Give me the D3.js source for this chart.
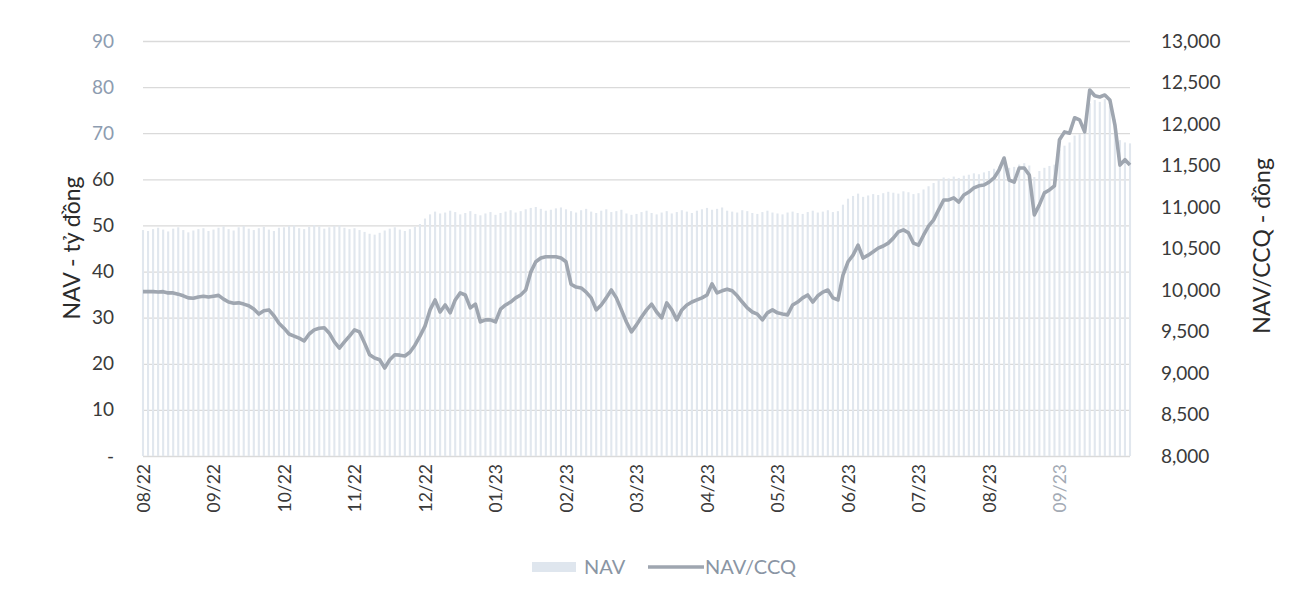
<!DOCTYPE html>
<html>
<meta charset="utf-8">
<head>
    <title>NAV va NAV/CCQ</title>
</head>
<style>
    body { margin: 0; background: #fff; }
    svg text { font-family: Lato, "Open Sans", sans-serif; }
</style>
<script src="https://d3js.org/d3.v7.min.js"></script>
<body>
<div id="chart"></div>
<script>

// month labels, one every 14 points
var months = ["08/22","09/22","10/22","11/22","12/22","01/23","02/23","03/23","04/23","05/23","06/23","07/23","08/23","09/23"]

// NAV (ty dong), bars
var nav = [
  49.0,48.8,49.2,49.5,49.1,48.7,49.3,49.6,49.0,48.5,48.9,49.2,49.4,48.8,
  49.1,49.5,49.8,49.2,48.9,49.6,49.9,49.3,49.0,49.4,49.7,49.1,48.8,49.5,
  49.6,49.9,50.0,49.4,49.2,49.7,50.1,49.8,49.3,49.6,49.9,50.0,49.5,49.2,
  49.4,49.0,48.6,48.2,48.0,48.4,48.9,49.3,49.6,49.1,48.8,49.2,49.7,50.3,
  51.5,52.4,53.0,52.6,52.8,53.2,52.9,52.4,52.7,53.1,52.5,52.2,52.6,52.9,
  52.3,52.7,53.0,53.3,52.8,53.1,53.5,53.8,54.0,53.6,53.2,53.4,53.7,53.9,
  53.5,53.1,52.8,53.3,53.6,53.0,52.7,53.2,53.5,52.9,53.1,53.4,52.6,52.3,
  52.5,52.9,53.2,52.7,52.4,52.8,53.1,52.6,52.9,53.3,53.0,52.7,53.2,53.5,
  53.8,53.4,53.6,53.9,53.2,53.0,52.8,53.3,53.1,52.7,52.5,52.9,53.2,52.8,
  52.6,52.4,52.8,53.0,52.7,52.5,52.9,53.2,52.8,53.0,53.3,52.9,53.1,54.5,
  55.8,56.4,56.9,56.2,56.5,56.8,56.6,57.0,57.3,57.1,56.9,57.4,57.2,56.8,
  57.0,57.8,58.5,59.2,60.0,60.4,60.2,60.6,60.3,60.8,61.0,61.3,61.1,61.5,
  61.8,62.3,62.8,63.6,62.5,62.7,63.2,63.5,63.0,60.5,61.8,62.5,62.9,63.2,
  66.5,67.3,68.0,69.5,69.8,70.2,76.5,77.2,76.8,77.4,76.0,73.0,68.5,68.0,67.8
]

// NAV/CCQ (dong), line
var navccq = [
  9980,9980,9980,9975,9980,9965,9965,9950,9930,9905,9900,9915,9925,9915,
  9925,9935,9890,9855,9840,9845,9830,9810,9770,9710,9750,9760,9690,9600,
  9540,9470,9445,9420,9385,9470,9520,9540,9545,9480,9375,9300,9375,9445,
  9520,9495,9360,9220,9180,9160,9060,9160,9220,9215,9205,9250,9335,9445,
  9565,9760,9880,9735,9820,9725,9880,9965,9940,9785,9830,9615,9640,9640,
  9615,9770,9820,9855,9905,9940,10000,10215,10340,10385,10400,10400,10400,10385,
  10340,10070,10035,10025,9975,9905,9760,9820,9905,10000,9905,9760,9615,9495,
  9580,9675,9760,9830,9735,9665,9845,9760,9640,9760,9820,9855,9880,9905,
  9940,10075,9965,9990,10010,9990,9930,9855,9785,9735,9710,9640,9725,9760,
  9725,9710,9700,9820,9855,9905,9940,9855,9930,9975,10000,9905,9880,10180,
  10340,10420,10540,10385,10420,10460,10505,10530,10565,10625,10700,10725,10690,10565,
  10540,10660,10770,10845,10965,11085,11085,11110,11060,11145,11180,11230,11255,11265,
  11300,11350,11445,11590,11325,11300,11470,11470,11385,10905,11025,11170,11205,11255,
  11810,11905,11890,12075,12050,11905,12410,12340,12325,12350,12290,11990,11505,11570,11505
]

var leftTicks = [0,10,20,30,40,50,60,70,80,90]
var rightTicks = [8000,8500,9000,9500,10000,10500,11000,11500,12000,12500,13000]

var width = 1296, height = 598
var plot = {left: 143, right: 1130, top: 41, bottom: 456}

var svg = d3.select("#chart")
  .append("svg")
  .attr("width", width)
  .attr("height", height)

var x = d3.scaleLinear()
  .domain([0, nav.length - 1])
  .range([plot.left, plot.right])

var yL = d3.scaleLinear().domain([0, 90]).range([plot.bottom, plot.top])
var yR = d3.scaleLinear().domain([8000, 13000]).range([plot.bottom, plot.top])

// gridlines
svg.append("g")
  .selectAll("line")
  .data(leftTicks).enter()
  .append("line")
  .attr("x1", plot.left)
  .attr("x2", plot.right)
  .attr("y1", function(d) { return yL(d) + 0.5 })
  .attr("y2", function(d) { return yL(d) + 0.5 })
  .style("stroke", "#dadada")
  .style("stroke-width", 1.3)

// bars
var bw = (x(1) - x(0)) * 0.42
svg.append("g")
  .selectAll("rect")
  .data(nav).enter()
  .append("rect")
  .attr("x", function(d, i) { return x(i) - bw / 2 })
  .attr("width", bw)
  .attr("y", function(d) { return yL(d) })
  .attr("height", function(d) { return yL(0) - yL(d) })
  .style("fill", "#e1e7ee")

// line
var line = d3.line()
  .x(function(d, i) { return x(i) })
  .y(function(d) { return yR(d) })

svg.append("path")
  .datum(navccq)
  .attr("d", line)
  .style("fill", "none")
  .style("stroke", "#9fa6b0")
  .style("stroke-width", 3.6)
  .style("stroke-linejoin", "round")

// left axis
var axL = svg.append("g")
  .attr("transform", "translate(" + (plot.left - 26) + ",0)")
  .call(d3.axisLeft(yL).tickValues(leftTicks).tickSize(0)
    .tickFormat(function(d) { return d == 0 ? "-" : d }))
axL.select(".domain").remove()
axL.selectAll("text")
  .style("font-size", "19px")
  .style("fill", function(d) { return d >= 70 ? "#8d9cb0" : "#3a3a3a" })

// right axis
var axR = svg.append("g")
  .attr("transform", "translate(" + (plot.right + 28) + ",0)")
  .call(d3.axisRight(yR).tickValues(rightTicks).tickSize(0)
    .tickFormat(d3.format(",")))
axR.select(".domain").remove()
axR.selectAll("text")
  .style("font-size", "19px")
  .style("fill", "#3a3a3a")

// x axis
var tickIdx = months.map(function(m, i) { return i * 14 })
var axX = svg.append("g")
  .attr("transform", "translate(0," + plot.bottom + ")")
  .call(d3.axisBottom(x).tickValues(tickIdx).tickSize(0)
    .tickFormat(function(d) { return months[d / 14] }))
axX.select(".domain").remove()
axX.selectAll("text")
  .attr("transform", "rotate(-90)")
  .attr("x", -8)
  .attr("y", 0)
  .attr("dy", "0.35em")
  .style("text-anchor", "end")
  .style("font-size", "17.5px")
  .style("fill", function(d, i) { return i == months.length - 1 ? "#a3aab4" : "#3a3a3a" })

// axis titles
svg.append("text")
  .attr("transform", "translate(80," + 248 + ") rotate(-90)")
  .style("text-anchor", "middle")
  .style("font-size", "23px")
  .style("fill", "#2b2b2b")
  .text("NAV - tỷ đồng")

svg.append("text")
  .attr("transform", "translate(1270," + 246 + ") rotate(-90)")
  .style("text-anchor", "middle")
  .style("font-size", "23px")
  .style("fill", "#2b2b2b")
  .text("NAV/CCQ - đồng")

// legend
var lg = svg.append("g").attr("transform", "translate(532,567)")
lg.append("rect")
  .attr("x", 0).attr("y", -5)
  .attr("width", 44).attr("height", 10)
  .style("fill", "#dfe6ee")
lg.append("text")
  .attr("x", 52).attr("y", 0).attr("dy", "0.35em")
  .style("font-size", "20px").style("fill", "#8a95a4")
  .text("NAV")
lg.append("line")
  .attr("x1", 116).attr("x2", 172)
  .attr("y1", 0).attr("y2", 0)
  .style("stroke", "#9fa6b0").style("stroke-width", 3.6)
lg.append("text")
  .attr("x", 173).attr("y", 0).attr("dy", "0.35em")
  .style("font-size", "20px").style("fill", "#8a95a4")
  .text("NAV/CCQ")

</script>
</body>
</html>
